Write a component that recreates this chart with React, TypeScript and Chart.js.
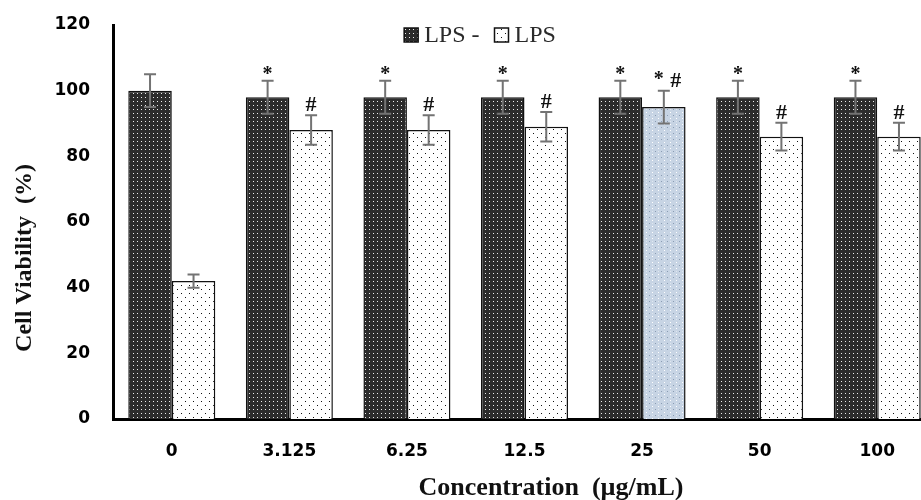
import React, { useEffect, useRef } from 'react';
import { Chart, registerables } from 'chart.js';

Chart.register(...registerables);

const categories = ['0', '3.125', '6.25', '12.5', '25', '50', '100'];
const seriesLabels = ['LPS -', 'LPS'];
const lpsNegValues = [100, 98, 98, 98, 98, 98, 98];
const lpsNegErrors = [5, 5, 5, 5, 5, 5, 5];
const lpsValues = [42, 88, 88, 89, 95, 86, 86];
const lpsErrors = [2, 4.5, 4.5, 4.5, 5, 4.2, 4.2];
const lpsNegMarks = ['', '*', '*', '*', '*', '*', '*'];
const lpsMarks = ['', '#', '#', '#', '* #', '#', '#'];
const highlightCategory = '25';
const yTickMax = 120;
const yTickStep = 20;
const xTitle = 'Concentration  (µg/mL)';
const yTitle = 'Cell Viability  (%)';

function makePattern(
  ctx: CanvasRenderingContext2D,
  bg: string,
  size: number,
  dots: [number, number, string][]
) {
  const c = document.createElement('canvas');
  c.width = size;
  c.height = size;
  const g = c.getContext('2d')!;
  g.fillStyle = bg;
  g.fillRect(0, 0, size, size);
  dots.forEach(([x, y, col]) => {
    g.fillStyle = col;
    g.fillRect(x, y, 1, 1);
  });
  return ctx.createPattern(c, 'repeat')!;
}

const errorBarPlugin = {
  id: 'errorBars',
  afterDatasetsDraw(chart: any) {
    const ctx = chart.ctx;
    const yScale = chart.scales.y;
    chart.data.datasets.forEach((ds: any, di: number) => {
      const meta = chart.getDatasetMeta(di);
      meta.data.forEach((bar: any, i: number) => {
        const v = ds.data[i];
        const e = ds.errors[i];
        const top = yScale.getPixelForValue(v + e);
        const bot = yScale.getPixelForValue(v - e);
        ctx.save();
        ctx.strokeStyle = '#737373';
        ctx.lineWidth = 2;
        ctx.beginPath();
        ctx.moveTo(bar.x, top);
        ctx.lineTo(bar.x, bot);
        ctx.moveTo(bar.x - 6, top);
        ctx.lineTo(bar.x + 6, top);
        ctx.moveTo(bar.x - 6, bot);
        ctx.lineTo(bar.x + 6, bot);
        ctx.stroke();
        const mark = ds.marks[i];
        if (mark) {
          ctx.fillStyle = '#111';
          ctx.textBaseline = 'alphabetic';
          const parts = mark.split(' ');
          if (parts.length === 1) {
            ctx.textAlign = 'center';
            ctx.font = parts[0] === '#' ? 'bold 22px "Liberation Serif"' : 'bold 20px "Liberation Serif"';
            ctx.fillText(parts[0], bar.x, top - (parts[0] === '#' ? 4 : 1));
          } else {
            ctx.textAlign = 'center';
            ctx.font = 'bold 20px "Liberation Serif"';
            ctx.fillText(parts[0], bar.x - 5, top - 6);
            ctx.font = 'bold 22px "Liberation Serif"';
            ctx.fillText(parts[1], bar.x + 12, top - 4);
          }
        }
        ctx.restore();
      });
    });
  },
};

const legendAndTitlesPlugin = {
  id: 'legendAndTitles',
  afterDraw(chart: any) {
    const ctx = chart.ctx;
    const area = chart.chartArea;
    ctx.save();
    // legend
    ctx.font = '24px "Liberation Serif"';
    const box = 14;
    const gap = 6;
    const itemGap = 15;
    const items = chart.data.datasets.map((ds: any) => ({
      label: ds.label,
      fill: ds.legendFill,
      w: box + gap + ctx.measureText(ds.label).width,
    }));
    const total = items.reduce((s: number, it: any) => s + it.w, 0) + itemGap * (items.length - 1);
    let x = 480 - total / 2;
    const cy = 35;
    items.forEach((it: any) => {
      ctx.fillStyle = it.fill;
      ctx.fillRect(x, cy - box / 2, box, box);
      ctx.strokeStyle = '#111';
      ctx.lineWidth = 1.5;
      ctx.strokeRect(x, cy - box / 2, box, box);
      ctx.fillStyle = '#2a2a2a';
      ctx.textAlign = 'left';
      ctx.textBaseline = 'middle';
      ctx.fillText(it.label, x + box + gap, cy + 1);
      x += it.w + itemGap;
    });
    // y title
    ctx.fillStyle = '#111';
    ctx.font = 'bold 24px "Liberation Serif"';
    ctx.textAlign = 'center';
    ctx.textBaseline = 'middle';
    ctx.translate(25, area.top + 233);
    ctx.rotate(-Math.PI / 2);
    ctx.fillText(yTitle, 0, 0);
    ctx.restore();
    ctx.save();
    ctx.fillStyle = '#111';
    ctx.font = 'bold 26px "Liberation Serif"';
    ctx.textAlign = 'center';
    ctx.textBaseline = 'alphabetic';
    ctx.fillText(xTitle, 551, 495);
    ctx.restore();
  },
};

export default function App() {
  const ref = useRef<HTMLCanvasElement | null>(null);
  useEffect(() => {
    const canvas = ref.current!;
    const ctx = canvas.getContext('2d')!;
    const darkP = makePattern(ctx, '#2c2c2c', 4, [[1, 1, '#eeeeee']]);
    const lightP = makePattern(ctx, '#ffffff', 8, [
      [1, 1, '#111111'],
      [5, 5, '#111111'],
    ]);
    const blueP = makePattern(ctx, '#c7d4e4', 6, [
      [1, 1, '#8a9cb3'],
      [4, 4, '#ffffff'],
      [4, 1, '#dfe7f0'],
    ]);
    const chart = new Chart(canvas, {
      type: 'bar',
      data: {
        labels: categories,
        datasets: [
          {
            label: seriesLabels[0],
            data: lpsNegValues,
            backgroundColor: darkP,
            borderColor: '#111',
            borderWidth: 1.5,
            errors: lpsNegErrors,
            marks: lpsNegMarks,
            legendFill: darkP,
          } as any,
          {
            label: seriesLabels[1],
            data: lpsValues,
            backgroundColor: categories.map((c) => (c === highlightCategory ? blueP : lightP)),
            borderColor: '#111',
            borderWidth: 1.5,
            errors: lpsErrors,
            marks: lpsMarks,
            legendFill: lightP,
          } as any,
        ],
      },
      options: {
        animation: false,
        responsive: true,
        maintainAspectRatio: false,
        layout: { padding: { top: 25, right: 4, left: 0, bottom: 0 } },
        plugins: { legend: { display: false }, tooltip: { enabled: false } },
        datasets: { bar: { categoryPercentage: 0.74, barPercentage: 1 } },
        scales: {
          x: {
            grid: { display: false, drawTicks: false },
            border: { display: true, color: '#000', width: 3 },
            ticks: {
              color: '#000',
              font: { family: 'DejaVu Sans', weight: 'bold', size: 17 },
              padding: 22,
            },
            afterFit: (s: any) => {
              s.height = 81;
            },
          },
          y: {
            min: 0,
            max: yTickMax,
            grid: { display: false, drawTicks: false },
            border: { display: true, color: '#000', width: 3 },
            ticks: {
              stepSize: yTickStep,
              color: '#000',
              font: { family: 'DejaVu Sans', weight: 'bold', size: 17 },
              padding: 23,
            },
            afterFit: (s: any) => {
              s.width = 113;
              s.paddingTop = 10;
              s.paddingBottom = 10;
            },
          },
        },
      },
      plugins: [errorBarPlugin, legendAndTitlesPlugin],
    });
    return () => chart.destroy();
  }, []);
  return (
    <div style={{ position: 'fixed', left: 0, top: 0, width: 940, height: 500, background: '#fff' }}>
      <canvas ref={ref} />
    </div>
  );
}
